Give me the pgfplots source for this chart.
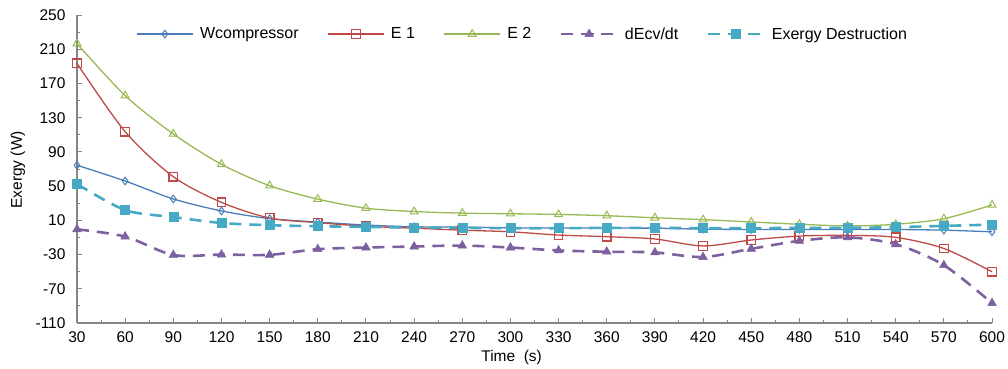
\documentclass[border=0pt]{standalone}
\usepackage{fontspec}
\setmainfont{Liberation Sans}
\usepackage{pgfplots}
\pgfplotsset{compat=1.18}
\definecolor{cW}{HTML}{4A7EBB}
\definecolor{cEa}{HTML}{BE4B48}
\definecolor{cEb}{HTML}{98B954}
\definecolor{cD}{HTML}{7D60A0}
\definecolor{cX}{HTML}{46AAC5}
\definecolor{axgray}{HTML}{868686}
\begin{document}
\begin{tikzpicture}[x=1bp,y=1bp]
\useasboundingbox (0,0) rectangle (1008,368);
\begin{axis}[
  at={(77bp,45bp)}, anchor=south west,
  scale only axis, width=915bp, height=308bp,
  xmin=30, xmax=600, ymin=-110, ymax=250,
  xtick={30,60,...,600}, ytick={-110,-70,...,250},
  minor x tick num=1, minor y tick num=1,
  tick align=inside,
  major tick length=5bp, minor tick length=3bp,
  axis x line*=bottom, axis y line*=left,
  axis line style={color=axgray, line width=1.2bp},
  every tick/.style={color=axgray, line width=1bp},
  minor tick style={color=axgray, line width=1bp},
  /pgf/number format/assume math mode=true,
  ticklabel style={font=\fontsize{15.5bp}{17bp}\selectfont, text=black},
  yticklabel style={xshift=-8bp},
  xticklabel style={yshift=-5bp},
  xlabel={Time\ \ (s)},
  xlabel style={at={(axis description cs:0.475,0)}, anchor=center, yshift=-34bp, font=\fontsize{15.5bp}{17bp}\selectfont},
  ylabel={Exergy (W)},
  ylabel style={at={(axis description cs:-0.0645,0.497)}, anchor=center, font=\fontsize{15.5bp}{17bp}\selectfont},
  clip=false,
  legend columns=-1,
  legend style={draw=none, fill=none, inner sep=0pt, at={(axis description cs:0.0645,0.938)}, anchor=west,
    font=\fontsize{16bp}{18bp}\selectfont,
    nodes={inner sep=1.5bp},
    /tikz/every odd column/.append style={column sep=5bp},
    /tikz/every even column/.append style={column sep=27bp}},
  legend image code/.code={\draw[mark repeat=2,mark phase=2,#1] plot coordinates {(0bp,0bp) (28bp,0bp) (56bp,0bp)};},
]
\addplot[cW, line width=1.3bp, smooth, mark=diamond, mark size=3.8bp, mark options={fill=white, solid, line width=1bp}] coordinates {
(30,74.4) (60,56) (90,35) (120,21) (150,12) (180,8) (210,4.5) (240,2.5) (270,2) (300,1.2) (330,1) (360,1) (390,0.8) (420,-0.3) (450,-0.7) (480,-0.7) (510,-0.7) (540,-0.7) (570,-1.5) (600,-3.4)};
\addlegendentry{Wcompressor}
\addplot[cEa, line width=1.3bp, smooth, mark=square, mark size=4.3bp, mark options={fill=white, solid, line width=1.2bp}] coordinates {
(30,193.5) (60,113.6) (90,61) (120,31) (150,12.7) (180,7.3) (210,3.1) (240,0.8) (270,-1.5) (300,-3.4) (330,-7.2) (360,-9.1) (390,-11.8) (420,-19.9) (450,-13) (480,-8.4) (510,-7.6) (540,-9.9) (570,-22.9) (600,-50.1)};
\addlegendentry{E 1}
\addplot[cEb, line width=1.3bp, smooth, mark=triangle, mark size=4.5bp, mark options={fill=white, solid, line width=1bp}] coordinates {
(30,216.6) (60,155.8) (90,111) (120,75.5) (150,50.5) (180,34.8) (210,24.2) (240,20.3) (270,18.4) (300,17.7) (330,16.9) (360,15.4) (390,13) (420,10.8) (450,8.1) (480,5.4) (510,3.5) (540,5.4) (570,11.9) (600,28)};
\addlegendentry{E 2}
\addplot[cD, line width=2.6bp, dash pattern=on 12bp off 8bp, smooth, mark=triangle*, mark size=5bp, mark options={solid, line width=0.5bp}] coordinates {
(30,-0.5) (60,-9) (90,-30.5) (120,-30) (150,-30.3) (180,-23.7) (210,-21.8) (240,-20.6) (270,-19.5) (300,-21.8) (330,-25.2) (360,-26.7) (390,-27.5) (420,-32.9) (450,-23.3) (480,-14) (510,-9.9) (540,-18) (570,-42.4) (600,-86.8)};
\addlegendentry{dEcv/dt}
\addplot[cX, line width=2.6bp, dash pattern=on 12bp off 8bp, smooth, mark=square*, mark size=4.5bp, mark options={solid, line width=0.5bp}] coordinates {
(30,52.5) (60,22) (90,13.8) (120,6.9) (150,4.3) (180,3.1) (210,2.3) (240,1.6) (270,1.2) (300,0.8) (330,0.8) (360,1.2) (390,1.2) (420,0.8) (450,0.8) (480,1.2) (510,1.2) (540,2) (570,3.5) (600,5)};
\addlegendentry{Exergy Destruction}
\end{axis}
\end{tikzpicture}
\end{document}
